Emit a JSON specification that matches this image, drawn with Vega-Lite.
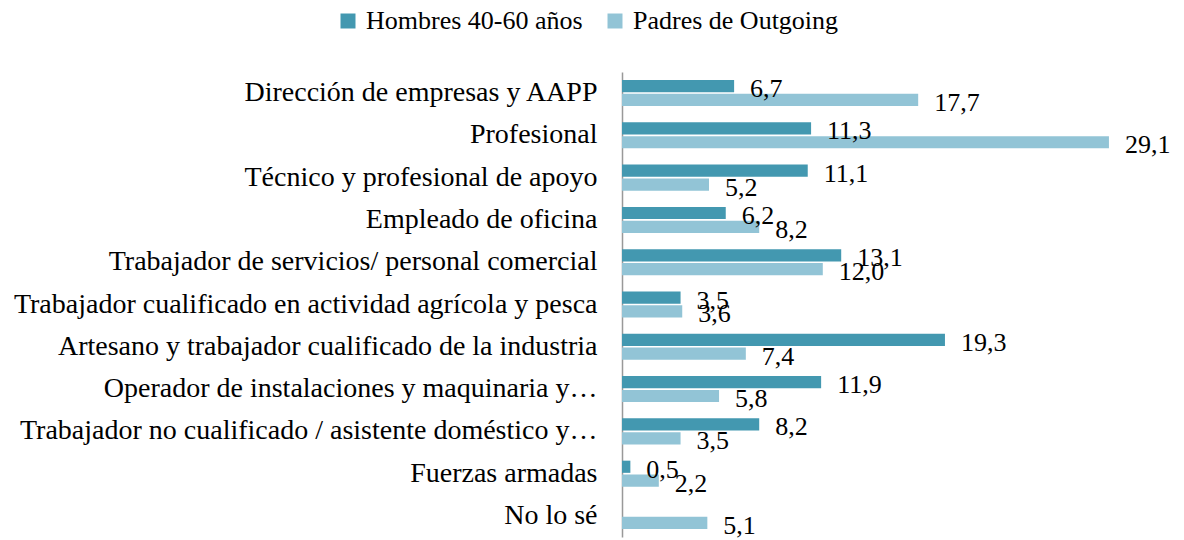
{
  "$schema": "https://vega.github.io/schema/vega-lite/v6.json",
  "autosize": {"type": "none"},
  "width": 502,
  "height": 465,
  "padding": {"left": 622, "top": 72, "right": 60, "bottom": 3},
  "background": "white",
  "config": {
    "view": {"stroke": null},
    "font": "Liberation Serif",
    "locale": {"number": {"decimal": ",", "thousands": ".", "grouping": [3], "currency": ["", " €"]}}
  },
  "data": {
    "values": [
      {"cat": "Dirección de empresas y AAPP", "serie": "Hombres 40-60 años", "v": 6.7},
      {"cat": "Dirección de empresas y AAPP", "serie": "Padres de Outgoing", "v": 17.7},
      {"cat": "Profesional", "serie": "Hombres 40-60 años", "v": 11.3},
      {"cat": "Profesional", "serie": "Padres de Outgoing", "v": 29.1},
      {"cat": "Técnico y profesional de apoyo", "serie": "Hombres 40-60 años", "v": 11.1},
      {"cat": "Técnico y profesional de apoyo", "serie": "Padres de Outgoing", "v": 5.2},
      {"cat": "Empleado de oficina", "serie": "Hombres 40-60 años", "v": 6.2},
      {"cat": "Empleado de oficina", "serie": "Padres de Outgoing", "v": 8.2},
      {"cat": "Trabajador de servicios/ personal comercial", "serie": "Hombres 40-60 años", "v": 13.1},
      {"cat": "Trabajador de servicios/ personal comercial", "serie": "Padres de Outgoing", "v": 12.0},
      {"cat": "Trabajador cualificado en actividad agrícola y pesca", "serie": "Hombres 40-60 años", "v": 3.5},
      {"cat": "Trabajador cualificado en actividad agrícola y pesca", "serie": "Padres de Outgoing", "v": 3.6},
      {"cat": "Artesano y trabajador cualificado de la industria", "serie": "Hombres 40-60 años", "v": 19.3},
      {"cat": "Artesano y trabajador cualificado de la industria", "serie": "Padres de Outgoing", "v": 7.4},
      {"cat": "Operador de instalaciones y maquinaria y…", "serie": "Hombres 40-60 años", "v": 11.9},
      {"cat": "Operador de instalaciones y maquinaria y…", "serie": "Padres de Outgoing", "v": 5.8},
      {"cat": "Trabajador no cualificado / asistente doméstico y…", "serie": "Hombres 40-60 años", "v": 8.2},
      {"cat": "Trabajador no cualificado / asistente doméstico y…", "serie": "Padres de Outgoing", "v": 3.5},
      {"cat": "Fuerzas armadas", "serie": "Hombres 40-60 años", "v": 0.5},
      {"cat": "Fuerzas armadas", "serie": "Padres de Outgoing", "v": 2.2},
      {"cat": "No lo sé", "serie": "Padres de Outgoing", "v": 5.1}
    ]
  },
  "encoding": {
    "y": {
      "field": "cat", "type": "nominal", "sort": null, "title": null,
      "scale": {"paddingInner": 0.385, "paddingOuter": 0.19},
      "axis": {"domainColor": "#999999", "domainWidth": 1.5, "ticks": false, "labelFontSize": 28, "labelColor": "black", "labelPadding": 25, "labelLimit": 700,
        "labelExpr": "datum.label == 'Profesional' ? 'Profesional\u00a0\u00a0' : datum.label"}
    },
    "yOffset": {"field": "serie", "type": "nominal", "sort": ["Hombres 40-60 años", "Padres de Outgoing"], "scale": {"paddingInner": 0.12}},
    "x": {"field": "v", "type": "quantitative", "title": null, "scale": {"domain": [0, 30]}, "axis": null}
  },
  "layer": [
    {
      "mark": {"type": "bar"},
      "encoding": {
        "color": {
          "field": "serie", "type": "nominal", "title": null,
          "scale": {"domain": ["Hombres 40-60 años", "Padres de Outgoing"], "range": ["#4398B0", "#92C4D6"]},
          "legend": {"orient": "none", "legendX": -287, "legendY": -64, "direction": "horizontal", "symbolType": "square", "symbolSize": 225, "symbolStrokeWidth": 0, "labelFontSize": 26, "labelColor": "black", "labelLimit": 400, "columnPadding": 19, "labelOffset": 5}
        }
      }
    },
    {
      "mark": {"type": "text", "align": "left", "baseline": "alphabetic", "dx": 16, "dy": 11, "fontSize": 26, "color": "black"},
      "encoding": {"text": {"field": "v", "type": "quantitative", "format": ".1f"}}
    }
  ]
}
